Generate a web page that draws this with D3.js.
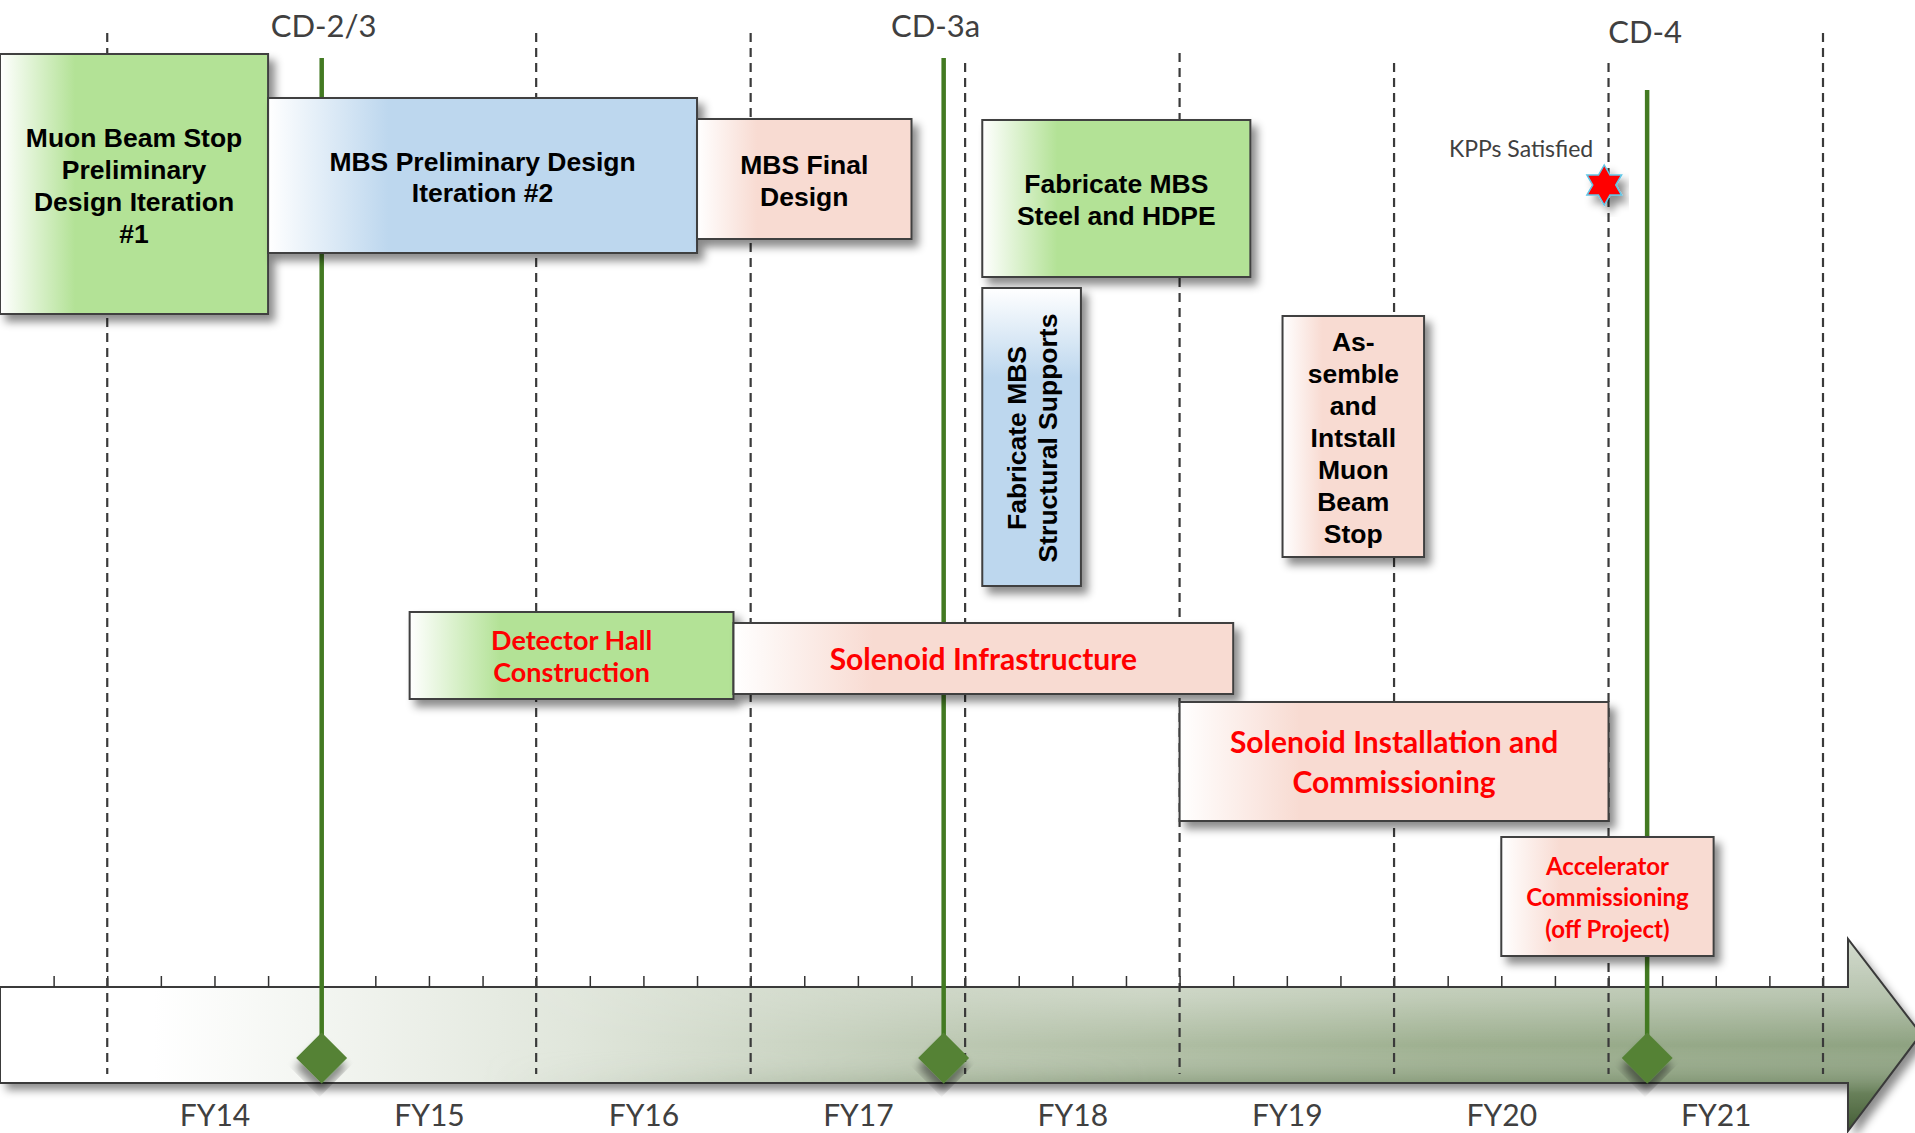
<!DOCTYPE html>
<html>
<head>
<meta charset="utf-8">
<style>
  body { margin: 0; background: #fff; }
  svg text { font-family: "Lato", "Open Sans", sans-serif; }
</style>
</head>
<body>
<svg id="chart" width="1915" height="1133"></svg>
<script src="https://d3js.org/d3.v7.min.js"></script>
<script>

// ---- data (fiscal years as decimals: 15.0 = start of FY15) ----
var fyLabels = ["FY14", "FY15", "FY16", "FY17", "FY18", "FY19", "FY20", "FY21"];
var fyStarts = [14, 15, 16, 17, 18, 19, 20, 21, 22];

var taskNames = [
  ["Muon Beam Stop", "Preliminary", "Design Iteration", "#1"],
  ["MBS Preliminary Design", "Iteration #2"],
  ["MBS Final", "Design"],
  ["Fabricate MBS", "Steel and HDPE"],
  ["Fabricate MBS", "Structural Supports"],
  ["As-", "semble", "and", "Intstall", "Muon", "Beam", "Stop"],
  ["Detector Hall", "Construction"],
  ["Solenoid Infrastructure"],
  ["Solenoid Installation and", "Commissioning"],
  ["Accelerator", "Commissioning", "(off Project)"]
];
var taskStart = [13.5, 14.75, 16.75, 18.08, 18.08, 19.48, 15.41, 16.92, 19.0, 20.5];
var taskEnd   = [14.75, 16.75, 17.75, 19.33, 18.54, 20.14, 16.92, 19.25, 21.0, 21.49];
var taskProject = ["MBS", "MBS", "MBS", "MBS", "MBS", "MBS", "Solenoid", "Solenoid", "Solenoid", "Solenoid"];

var milestoneNames = ["CD-2/3", "CD-3a", "CD-4"];
var milestoneDates = [15.0, 17.9, 21.18];

var kppLabel = "KPPs Satisfied";
var kppDate = 20.98;

// ---- layout / style (not data) ----
var taskTop    = [54, 98, 119, 120, 288, 316, 612, 623, 702, 837];
var taskBottom = [314, 253, 239, 277, 586, 557, 699, 694, 821, 956];
var taskFill   = ["green", "blue", "pink", "green", "blueV", "pink", "green", "pink", "pink", "pink"];
var taskFontSize = [26.5, 26.5, 26.5, 26.5, 26.5, 26.5, 27, 30, 30, 24];
var taskLineH    = [32, 31, 32, 32, 31, 32, 32, 40, 40, 31.5];
var milestoneTop = [58, 58, 90];
var milestoneLabelY = [37, 37, 43];
var milestoneLabelDx = [2, -8, -2];
var gridTop = [33, 60, 33, 33, 63, 53, 63, 63, 33];

var fills = {green: "#b3e296", blue: "#bdd7ee", blueV: "#bdd7ee", pink: "#f8dbd2"};

var svg = d3.select("#chart");
var x = d3.scaleLinear().domain([13.5, 22]).range([0, 1823]);

var barTop = 987, barBottom = 1083;

// ---- defs ----
var defs = svg.append("defs");

var shadow = defs.append("filter").attr("id", "shadow")
    .attr("x", "-10%").attr("y", "-10%").attr("width", "130%").attr("height", "140%");
shadow.append("feDropShadow")
    .attr("dx", 6).attr("dy", 7).attr("stdDeviation", 4)
    .attr("flood-color", "#000").attr("flood-opacity", 0.45);

Object.keys(fills).forEach(function(k) {
  var vertical = k === "blueV";
  var gr = defs.append("linearGradient").attr("id", "fill-" + k)
      .attr("x1", 0).attr("y1", 0)
      .attr("x2", vertical ? 0 : 1).attr("y2", vertical ? 1 : 0);
  gr.append("stop").attr("offset", 0).attr("stop-color", "#fff");
  gr.append("stop").attr("offset", vertical ? 0.3 : 0.28).attr("stop-color", fills[k]);
  gr.append("stop").attr("offset", 1).attr("stop-color", fills[k]);
});

// timeline bar: horizontal fade in, then vertical shading on the right
var barH = defs.append("linearGradient").attr("id", "barH")
    .attr("gradientUnits", "userSpaceOnUse")
    .attr("x1", 0).attr("y1", 0).attr("x2", 1920).attr("y2", 0);
[[0, "#ffffff"], [0.08, "#ffffff"], [0.3, "#e0e6db"], [0.5, "#bcc8b2"], [0.75, "#9eb090"], [1, "#8ea281"]]
  .forEach(function(s) { barH.append("stop").attr("offset", s[0]).attr("stop-color", s[1]); });

var barV = defs.append("linearGradient").attr("id", "barV")
    .attr("gradientUnits", "userSpaceOnUse")
    .attr("x1", 0).attr("y1", 940).attr("x2", 0).attr("y2", 1132);
barV.append("stop").attr("offset", 0).attr("stop-color", "#ffffff").attr("stop-opacity", 0.6);
barV.append("stop").attr("offset", 0.3).attr("stop-color", "#ffffff").attr("stop-opacity", 0.35);
barV.append("stop").attr("offset", 0.55).attr("stop-color", "#ffffff").attr("stop-opacity", 0);
barV.append("stop").attr("offset", 0.8).attr("stop-color", "#2c4a1c").attr("stop-opacity", 0.4);
barV.append("stop").attr("offset", 1).attr("stop-color", "#1f3a10").attr("stop-opacity", 0.7);

var maskGr = defs.append("linearGradient").attr("id", "barMaskGr")
    .attr("gradientUnits", "userSpaceOnUse")
    .attr("x1", 0).attr("y1", 0).attr("x2", 1920).attr("y2", 0);
maskGr.append("stop").attr("offset", 0.25).attr("stop-color", "#000");
maskGr.append("stop").attr("offset", 0.6).attr("stop-color", "#fff");
defs.append("mask").attr("id", "barMask")
    .append("rect").attr("width", 1915).attr("height", 1133).attr("fill", "url(#barMaskGr)");

// ---- timeline arrow ----
var barRight = x(22) + 25;
var barPath = "M0," + barTop + "H" + barRight + "V939L1921,1034L" + barRight + ",1131V" + barBottom + "H0Z";

svg.append("path").attr("d", barPath).attr("fill", "url(#barH)")
    .attr("filter", "url(#shadow)");
svg.append("path").attr("d", barPath).attr("fill", "url(#barV)")
    .attr("mask", "url(#barMask)");
svg.append("path").attr("d", barPath).attr("fill", "none")
    .attr("stroke", "#3a3a3a").attr("stroke-width", 2);

// quarter ticks
var quarters = d3.range(13.75, 22.001, 0.25);
var tickAxis = svg.append("g").attr("transform", "translate(0," + barTop + ")")
    .call(d3.axisTop(x).tickValues(quarters).tickSize(11).tickFormat(""));
tickAxis.select(".domain").remove();
tickAxis.selectAll("line").attr("stroke", "#333").attr("stroke-width", 1.5);

// fiscal year labels
var fyAxis = svg.append("g").attr("transform", "translate(0,1126)")
    .call(d3.axisBottom(x)
      .tickValues(fyLabels.map(function(d, i) { return fyStarts[i] + 0.5; }))
      .tickSize(0)
      .tickFormat(function(d, i) { return fyLabels[i]; }));
fyAxis.select(".domain").remove();
fyAxis.selectAll("text")
    .attr("y", 0).attr("dy", 0)
    .attr("fill", "#404040")
    .style("font-family", "Lato")
    .style("font-size", "30px");

// ---- dashed year boundaries ----
svg.append("g").selectAll("line").data(fyStarts).join("line")
    .attr("x1", function(d) { return x(d); })
    .attr("x2", function(d) { return x(d); })
    .attr("y1", function(d, i) { return gridTop[i]; })
    .attr("y2", 1074)
    .attr("stroke", "#3a3a3a")
    .attr("stroke-width", 2.2)
    .attr("stroke-dasharray", "9,6");

// ---- milestones ----
var ms = svg.append("g").selectAll("g").data(milestoneNames).join("g");
ms.append("line")
    .attr("x1", function(d, i) { return x(milestoneDates[i]); })
    .attr("x2", function(d, i) { return x(milestoneDates[i]); })
    .attr("y1", function(d, i) { return milestoneTop[i]; })
    .attr("y2", 1050)
    .attr("stroke", "#437a22")
    .attr("stroke-width", 4.5);
ms.append("path")
    .attr("d", d3.symbol(d3.symbolSquare, 1300))
    .attr("transform", function(d, i) { return "translate(" + x(milestoneDates[i]) + ",1058) rotate(45)"; })
    .attr("fill", "#548235")
    .attr("filter", "url(#shadow)");
ms.append("text")
    .attr("x", function(d, i) { return x(milestoneDates[i]) + milestoneLabelDx[i]; })
    .attr("y", function(d, i) { return milestoneLabelY[i]; })
    .attr("text-anchor", "middle")
    .attr("fill", "#404040")
    .style("font-size", "31px")
    .text(function(d) { return d; });

// ---- KPP star ----
var starPts = d3.range(12).map(function(i) {
  return [i * Math.PI / 6, i % 2 ? 11.5 : 20];
});
svg.append("path")
    .attr("d", d3.lineRadial().curve(d3.curveLinearClosed)(starPts))
    .attr("transform", "translate(" + x(kppDate) + ",185)")
    .attr("fill", "#ff0000")
    .attr("stroke", "#62c6e6")
    .attr("stroke-width", 1.5)
    .attr("filter", "url(#shadow)");
svg.append("text")
    .attr("x", x(kppDate) - 11)
    .attr("y", 157)
    .attr("text-anchor", "end")
    .attr("fill", "#404040")
    .style("font-size", "23px")
    .text(kppLabel);

// ---- task boxes ----
var tasks = svg.append("g").selectAll("g").data(taskNames).join("g");

tasks.append("rect")
    .attr("x", function(d, i) { return x(taskStart[i]); })
    .attr("y", function(d, i) { return taskTop[i]; })
    .attr("width", function(d, i) { return x(taskEnd[i]) - x(taskStart[i]); })
    .attr("height", function(d, i) { return taskBottom[i] - taskTop[i]; })
    .attr("fill", function(d, i) { return "url(#fill-" + taskFill[i] + ")"; })
    .attr("stroke", "#3f3f3f")
    .attr("stroke-width", 2)
    .attr("filter", "url(#shadow)");

tasks.each(function(lines, i) {
  var cx = (x(taskStart[i]) + x(taskEnd[i])) / 2,
      cy = (taskTop[i] + taskBottom[i]) / 2 + 1,
      mbs = taskProject[i] === "MBS",
      rotated = taskFill[i] === "blueV";
  var t = d3.select(this).append("text")
      .attr("text-anchor", "middle")
      .attr("fill", mbs ? "#000" : "#ff0000")
      .style("font-family", mbs ? "'Liberation Sans', Arial, sans-serif" : "Lato, sans-serif")
      .style("font-weight", "bold")
      .style("font-size", taskFontSize[i] + "px")
      .attr("transform", "translate(" + cx + "," + cy + ")" + (rotated ? " rotate(-90)" : ""));
  t.selectAll("tspan").data(lines).join("tspan")
      .attr("x", 0)
      .attr("y", function(d, j) { return (j - (lines.length - 1) / 2) * taskLineH[i]; })
      .attr("dy", "0.36em")
      .text(function(d) { return d; });
});

</script>
</body>
</html>
